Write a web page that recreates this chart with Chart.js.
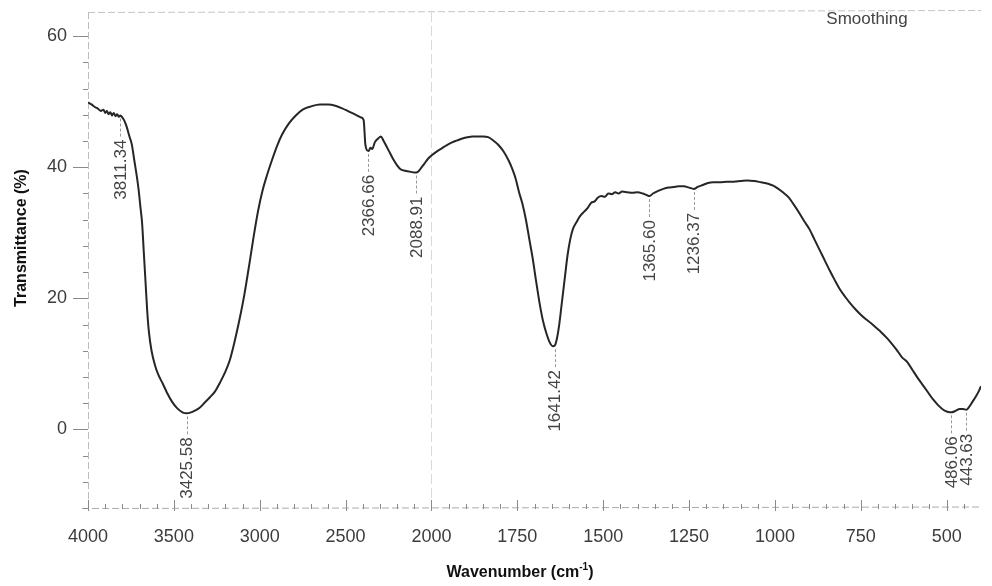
<!DOCTYPE html>
<html>
<head>
<meta charset="utf-8">
<script src="https://cdn.jsdelivr.net/npm/chart.js@4/dist/chart.umd.min.js"></script>
<style>
  html, body { margin: 0; padding: 0; background: #fff; }
  #wrap { width: 992px; height: 586px; position: relative; }
</style>
</head>
<body>
<div id="wrap"><canvas id="c"></canvas></div>
<script>
// ---------------- DATA ----------------
const wavenumbers = [
  4000,3980,3960,3940,3925,3910,3900,3890,3880,3870,3860,3850,3840,3830,3820,3811,3800,3790,3775,3760,
  3745,3730,3715,3705,3695,3685,3675,3665,3655,3645,3630,3610,3590,3565,3540,3510,3480,3450,3425,3400,
  3375,3350,3320,3290,3260,3230,3200,3175,3150,3120,3090,3060,3035,3010,2985,2960,2930,2900,2870,2830,
  2790,2750,2700,2650,2600,2560,2520,2480,2440,2410,2395,2385,2375,2366,2355,2345,2330,2310,2295,2280,
  2260,2240,2220,2200,2180,2160,2140,2120,2100,2089,2075,2060,2040,2020,2000,1985,1970,1955,1940,1925,
  1910,1895,1880,1865,1850,1835,1820,1805,1790,1775,1765,1755,1745,1735,1725,1715,1705,1695,1685,1675,
  1665,1655,1647,1641,1635,1628,1620,1612,1604,1596,1588,1578,1568,1556,1545,1535,1525,1515,1505,1495,
  1485,1475,1465,1455,1445,1430,1415,1400,1385,1375,1365,1355,1340,1325,1310,1295,1280,1265,1250,1236,
  1225,1210,1195,1180,1160,1140,1120,1100,1080,1060,1040,1020,1005,990,975,960,945,930,915,900,
  885,870,855,840,825,810,795,780,765,750,735,720,705,690,675,660,645,630,615,600,
  585,570,555,540,525,510,498,486,475,462,452,443,435,425,415,405,400
];
const transmittance = [
  49.9,49.6,49.2,48.9,48.6,48.8,48.3,48.6,48.1,48.4,47.9,48.3,47.8,48.1,47.7,47.9,47.6,47.2,46.2,44.8,
  43.5,41.0,38.5,36.5,34.0,31.5,27.0,22.5,18.0,14.8,12.0,9.8,8.3,7.0,5.6,4.2,3.2,2.6,2.45,2.6,
  2.9,3.3,4.1,4.9,5.8,7.2,8.8,10.5,13.0,16.5,20.5,25.3,29.5,33.3,36.3,38.6,41.0,43.2,45.0,46.7,
  47.9,48.8,49.3,49.6,49.6,49.4,49.0,48.5,48.0,47.6,47.2,43.5,42.6,42.5,43.0,42.8,43.8,44.4,44.7,44.1,
  43.1,42.1,41.1,40.3,39.7,39.5,39.4,39.3,39.2,39.2,39.4,39.9,40.6,41.3,41.8,42.4,42.9,43.4,43.8,44.1,
  44.4,44.6,44.7,44.7,44.7,44.6,44.1,43.4,42.4,41.0,39.8,38.3,36.2,34.4,32.0,29.0,26.0,22.5,19.2,16.5,
  14.6,13.2,12.7,12.8,13.8,16.0,19.5,23.0,26.5,29.0,30.6,31.6,32.5,33.2,33.8,34.6,34.8,35.4,35.6,35.5,
  36.0,35.9,36.2,36.0,36.3,36.2,36.1,36.2,36.0,35.8,35.6,36.0,36.4,36.7,36.9,37.0,37.1,37.1,36.9,36.7,
  37.0,37.3,37.6,37.7,37.7,37.8,37.8,37.9,38.0,37.9,37.7,37.5,37.2,36.7,36.1,35.4,34.3,33.1,31.8,30.6,
  29.0,27.4,25.8,24.2,22.7,21.3,20.2,19.2,18.3,17.5,16.8,16.2,15.5,14.8,14.0,13.1,12.1,11.0,10.3,9.1,
  7.9,6.8,5.7,4.6,3.7,3.0,2.7,2.6,2.8,3.1,3.1,3.0,3.4,4.2,5.0,6.0,6.6
];
const xTickValues = [4000, 3500, 3000, 2500, 2000, 1750, 1500, 1250, 1000, 750, 500];
const yTickValues = [0, 20, 40, 60];
const peakWavenumbers = [3811.34, 3425.58, 2366.66, 2088.91, 1641.42, 1365.60, 1236.37, 486.06, 443.63];
const peakLabels = ['3811.34', '3425.58', '2366.66', '2088.91', '1641.42', '1365.60', '1236.37', '486.06', '443.63'];
const peakTransmittance = [47.9, 2.45, 42.5, 39.2, 12.7, 35.6, 36.7, 2.6, 3.0];

// ---------------- BROKEN X SCALE ----------------
const BREAK_AT = 2000;   // below this wavenumber the axis is expanded
const LOW_FACTOR = 2;

class BrokenLinearScale extends Chart.LinearScale {
  _pos(v) {
    return v >= BREAK_AT ? (this.max - v) : (this.max - BREAK_AT) + LOW_FACTOR * (BREAK_AT - v);
  }
  getPixelForValue(v) {
    if (v === null || v === undefined || isNaN(v)) return NaN;
    const total = this._pos(this.min);
    return this.left + this.width * this._pos(v) / total;
  }
  getValueForPixel(p) {
    const total = this._pos(this.min);
    const pos = (p - this.left) / this.width * total;
    const hi = this.max - BREAK_AT;
    return pos <= hi ? this.max - pos : BREAK_AT - (pos - hi) / LOW_FACTOR;
  }
}
BrokenLinearScale.id = 'brokenLinear';
BrokenLinearScale.defaults = Chart.LinearScale.defaults;
Chart.register(BrokenLinearScale);

const FONT = "'Liberation Sans', Arial, sans-serif";
const TEXT = '#3c3c3c';

// ---------------- DECORATION PLUGIN ----------------
const decor = {
  id: 'decor',
  beforeDatasetsDraw(chart) {
    const { ctx, chartArea: a, scales: { x, y } } = chart;
    ctx.save();
    ctx.lineWidth = 1;
    ctx.strokeStyle = '#c4c4c4';
    ctx.setLineDash([7, 3]);
    ctx.beginPath(); ctx.moveTo(a.left, a.top + 0.5); ctx.lineTo(a.right, a.top - 1.5); ctx.stroke();
    ctx.strokeStyle = '#bdbdbd';
    ctx.beginPath(); ctx.moveTo(a.left + 0.5, a.top); ctx.lineTo(a.left + 0.5, a.bottom); ctx.stroke();
    ctx.strokeStyle = '#ababab';
    ctx.beginPath(); ctx.moveTo(a.left - 6, a.bottom + 0.5); ctx.lineTo(a.right, a.bottom - 1); ctx.stroke();
    ctx.strokeStyle = '#dadada';
    ctx.setLineDash([10, 4]);
    const xb = Math.round(x.getPixelForValue(BREAK_AT)) + 0.5;
    ctx.beginPath(); ctx.moveTo(xb, a.top); ctx.lineTo(xb, a.bottom); ctx.stroke();
    ctx.setLineDash([]);
    ctx.strokeStyle = '#8a8a8a';
    for (let v = -12; v <= 60; v += 4) {
      const py = Math.round(y.getPixelForValue(v)) + 0.5;
      const major = yTickValues.includes(v);
      ctx.beginPath(); ctx.moveTo(a.left - (major ? 15 : 5), py); ctx.lineTo(a.left, py); ctx.stroke();
    }
    const minors = [];
    for (let v = 4000; v >= 2000; v -= 100) minors.push(v);
    for (let v = 1950; v >= 450; v -= 50) minors.push(v);
    minors.forEach(v => {
      const px = Math.round(x.getPixelForValue(v)) + 0.5;
      const major = xTickValues.includes(v);
      ctx.beginPath(); ctx.moveTo(px, a.bottom - (major ? 8 : 4)); ctx.lineTo(px, a.bottom + (major ? 3 : 1)); ctx.stroke();
    });
    ctx.restore();
  },
  afterDatasetsDraw(chart) {
    const { ctx, scales: { x, y } } = chart;
    ctx.save();
    ctx.font = '17px ' + FONT;
    ctx.fillStyle = '#444';
    peakWavenumbers.forEach((w, i) => {
      const px = x.getPixelForValue(w);
      const py = y.getPixelForValue(peakTransmittance[i]);
      const top = py + 24;
      ctx.strokeStyle = '#9a9a9a';
      ctx.lineWidth = 1;
      ctx.setLineDash([3, 2]);
      ctx.beginPath(); ctx.moveTo(Math.round(px) + 0.5, py + 3); ctx.lineTo(Math.round(px) + 0.5, top - 2); ctx.stroke();
      ctx.setLineDash([]);
      ctx.save();
      ctx.translate(px, top);
      ctx.rotate(-Math.PI / 2);
      ctx.textAlign = 'right';
      ctx.textBaseline = 'middle';
      ctx.fillText(peakLabels[i], 0, 1);
      ctx.restore();
    });
    ctx.font = '17px ' + FONT;
    ctx.fillStyle = '#444';
    ctx.textAlign = 'center';
    ctx.textBaseline = 'middle';
    ctx.fillText('Smoothing', 867, 19);
    ctx.fillStyle = '#111';
    ctx.font = 'bold 16px ' + FONT;
    ctx.save();
    ctx.translate(22, 238);
    ctx.rotate(-Math.PI / 2);
    ctx.textAlign = 'center';
    ctx.textBaseline = 'middle';
    ctx.fillText('Transmittance (%)', 0, 0);
    ctx.restore();
    const main = 'Wavenumber (cm';
    const sup = '-1';
    const end = ')';
    ctx.font = 'bold 16px ' + FONT;
    const w1 = ctx.measureText(main).width;
    const w3 = ctx.measureText(end).width;
    ctx.font = 'bold 10px ' + FONT;
    const w2 = ctx.measureText(sup).width;
    const total = w1 + w2 + w3;
    const sx = 520 - total / 2;
    const by = 577;
    ctx.textAlign = 'left';
    ctx.textBaseline = 'alphabetic';
    ctx.font = 'bold 16px ' + FONT;
    ctx.fillText(main, sx, by);
    ctx.font = 'bold 10px ' + FONT;
    ctx.fillText(sup, sx + w1, by - 7);
    ctx.font = 'bold 16px ' + FONT;
    ctx.fillText(end, sx + w1 + w2, by);
    ctx.restore();
  }
};

// ---------------- CHART ----------------
const points = wavenumbers.map((w, i) => ({ x: w, y: transmittance[i] }));

new Chart(document.getElementById('c'), {
  type: 'line',
  data: {
    datasets: [{
      data: points,
      borderColor: '#262626',
      borderWidth: 2,
      pointRadius: 0,
      fill: false,
      tension: 0,
      cubicInterpolationMode: 'monotone'
    }]
  },
  options: {
    responsive: true,
    maintainAspectRatio: false,
    animation: false,
    layout: { padding: { left: 0, top: 12, right: 11, bottom: 0 } },
    plugins: { legend: { display: false }, tooltip: { enabled: false } },
    scales: {
      x: {
        type: 'brokenLinear',
        min: 400,
        max: 4000,
        grid: { display: false, drawTicks: false },
        border: { display: false },
        afterBuildTicks: s => { s.ticks = xTickValues.map(v => ({ value: v })); },
        afterFit: s => { s.height = 78; s.paddingLeft = 0; s.paddingRight = 0; },
        ticks: {
          autoSkip: false,
          maxRotation: 0,
          padding: 18,
          color: TEXT,
          font: { family: FONT, size: 18 },
          callback: v => String(v)
        }
      },
      y: {
        type: 'linear',
        min: -12,
        max: 63.7,
        grid: { display: false, drawTicks: false },
        border: { display: false },
        afterBuildTicks: s => { s.ticks = yTickValues.map(v => ({ value: v })); },
        afterFit: s => { s.width = 88; s.paddingTop = 0; s.paddingBottom = 0; },
        ticks: {
          padding: 21,
          color: TEXT,
          font: { family: FONT, size: 18 },
          callback: v => String(v)
        }
      }
    }
  },
  plugins: [decor]
});
</script>
</body>
</html>
